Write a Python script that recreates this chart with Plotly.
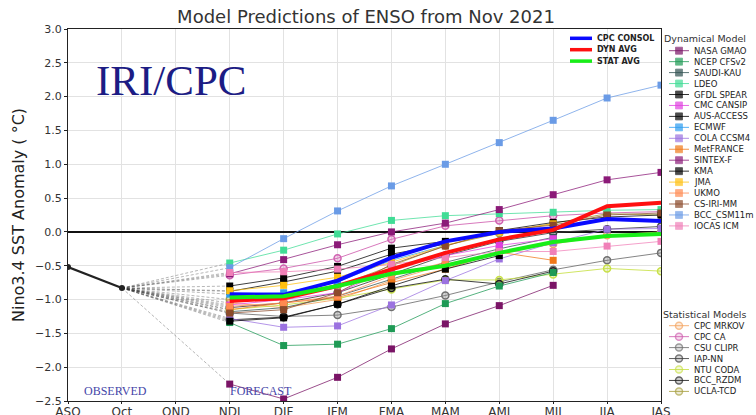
import plotly.graph_objects as go

# ---------------- data ----------------
SEASONS = ["ASO", "Oct", "OND", "NDJ", "DJF", "JFM", "FMA", "MAM", "AMJ", "MJJ", "JJA", "JAS"]
OBS_SEASONS = ["ASO", "Oct"]
OBS_VALUES = [-0.52, -0.83]
FC_SEASONS = ["NDJ", "DJF", "JFM", "FMA", "MAM", "AMJ", "MJJ", "JJA", "JAS"]

Y_TICKS = [3.0, 2.5, 2.0, 1.5, 1.0, 0.5, 0.0, -0.5, -1.0, -1.5, -2.0, -2.5]

# dynamical models
NASA_GMAO = [-2.25, -2.47, -2.15, -1.73, -1.36, -1.09, -0.79, None, None]
NCEP_CFSV2 = [-1.34, -1.68, -1.66, -1.43, -1.06, -0.80, -0.60, None, None]
SAUDI_KAU = [-1.18, -1.12, -0.95, -0.70, -0.45, -0.25, -0.08, None, None]
LDEO = [-0.46, -0.27, -0.03, 0.17, 0.24, 0.27, 0.29, 0.32, 0.33]
GFDL_SPEAR = [-0.80, -0.68, -0.51, -0.24, -0.14, 0.02, 0.14, 0.22, 0.25]
CMC_CANSIP = [-1.08, -1.00, -0.90, -0.55, -0.35, -0.20, -0.10, None, None]
AUS_ACCESS = [-0.88, -0.74, -0.58, -0.33, -0.18, None, None, None, None]
ECMWF = [-0.92, -0.90, -0.74, -0.42, -0.20, None, None, None, None]
COLA_CCSM4 = [-1.28, -1.41, -1.39, -1.08, -0.72, -0.40, -0.16, 0.04, 0.05]
METFRANCE = [-1.15, -1.05, -0.97, -0.75, -0.55, -0.30, -0.42, None, None]
SINTEX_F = [-0.62, -0.41, -0.19, 0.00, 0.13, 0.33, 0.55, 0.77, 0.88]
KMA = [-1.32, -1.27, -1.07, -0.80, -0.55, -0.35, None, None, None]
JMA = [-0.87, -0.79, -0.67, -0.45, -0.20, 0.00, 0.12, None, None]
UKMO = [-1.10, -1.05, -0.95, -0.65, -0.45, None, None, None, None]
CS_IRI_MM = [-1.20, -1.15, -0.90, -0.48, -0.21, 0.02, 0.10, 0.25, 0.28]
BCC_CSM11M = [-0.53, -0.10, 0.31, 0.68, 1.00, 1.32, 1.65, 1.98, 2.17]
IOCAS_ICM = [-0.60, -0.59, -0.55, -0.48, -0.38, -0.29, -0.29, -0.21, -0.14]

# statistical models
CPC_MRKOV = [-1.05, -1.12, -1.00, -0.72, -0.48, -0.30, -0.18, -0.05, 0.00]
CPC_CA = [-0.64, -0.54, -0.39, -0.11, 0.09, 0.17, 0.24, 0.28, 0.30]
CSU_CLIPR = [-1.20, -1.25, -1.23, -1.11, -0.94, -0.74, -0.56, -0.42, -0.31]
IAP_NN = [-1.12, -1.05, -0.90, -0.62, -0.35, -0.14, -0.01, 0.04, 0.08]
NTU_CODA = [-1.15, -1.08, -0.98, -0.85, -0.71, -0.71, -0.63, -0.54, -0.58]
BCC_RZDM = [-1.30, -1.26, -1.07, -0.83, -0.70, -0.77, -0.58, None, None]
UCLA_TCD = [-1.00, -0.95, -0.80, -0.50, -0.20, -0.02, 0.12, 0.27, 0.25]

# averages
CPC_CONSOL = [-0.92, -0.93, -0.72, -0.38, -0.14, 0.00, 0.05, 0.19, 0.16]
DYN_AVG = [-1.02, -0.98, -0.80, -0.56, -0.31, -0.11, 0.03, 0.38, 0.43]
STAT_AVG = [-0.97, -0.95, -0.80, -0.62, -0.50, -0.31, -0.15, -0.06, -0.03]

DYN_MODELS = [
    ("NASA GMAO", NASA_GMAO), ("NCEP CFSv2", NCEP_CFSV2), ("SAUDI-KAU", SAUDI_KAU),
    ("LDEO", LDEO), ("GFDL SPEAR", GFDL_SPEAR), ("CMC CANSIP", CMC_CANSIP),
    ("AUS-ACCESS", AUS_ACCESS), ("ECMWF", ECMWF), ("COLA CCSM4", COLA_CCSM4),
    ("MetFRANCE", METFRANCE), ("SINTEX-F", SINTEX_F), ("KMA", KMA), ("JMA", JMA),
    ("UKMO", UKMO), ("CS-IRI-MM", CS_IRI_MM), ("BCC_CSM11m", BCC_CSM11M),
    ("IOCAS ICM", IOCAS_ICM),
]
STAT_MODELS = [
    ("CPC MRKOV", CPC_MRKOV), ("CPC CA", CPC_CA), ("CSU CLIPR", CSU_CLIPR),
    ("IAP-NN", IAP_NN), ("NTU CODA", NTU_CODA), ("BCC_RZDM", BCC_RZDM),
    ("UCLA-TCD", UCLA_TCD),
]
AVERAGES = [("CPC CONSOL", CPC_CONSOL), ("DYN AVG", DYN_AVG), ("STAT AVG", STAT_AVG)]

# ---------------- styles ----------------
DYN_COLORS = {
    "NASA GMAO": "#7a1466", "NCEP CFSv2": "#1e9a55", "SAUDI-KAU": "#2f5050",
    "LDEO": "#40dc95", "GFDL SPEAR": "#000000", "CMC CANSIP": "#e040e0",
    "AUS-ACCESS": "#000000", "ECMWF": "#2b9cf0", "COLA CCSM4": "#9b72e0",
    "MetFRANCE": "#f07818", "SINTEX-F": "#8b1a78", "KMA": "#000000", "JMA": "#ffc010",
    "UKMO": "#ff8a50", "CS-IRI-MM": "#8b4a2a", "BCC_CSM11m": "#6a9be6",
    "IOCAS ICM": "#f080b8",
}
STAT_COLORS = {
    "CPC MRKOV": "#f4a460", "CPC CA": "#d060b0", "CSU CLIPR": "#707070",
    "IAP-NN": "#404040", "NTU CODA": "#c8e048", "BCC_RZDM": "#202020",
    "UCLA-TCD": "#a8a040",
}
AVG_COLORS = {"CPC CONSOL": "#0a0aff", "DYN AVG": "#ff1010", "STAT AVG": "#18ee18"}

W, H = 756, 415
PLOT_L, PLOT_R, PLOT_T, PLOT_B = 68, 661, 29, 401


def rgba(hex_color, a):
    h = hex_color.lstrip("#")
    r, g, b = int(h[0:2], 16), int(h[2:4], 16), int(h[4:6], 16)
    return f"rgba({r},{g},{b},{a})"


fig = go.Figure()

# dashed connectors from last observation to first forecast of each model
cx, cy = [], []
for _, vals in DYN_MODELS + STAT_MODELS:
    cx += [OBS_SEASONS[-1], FC_SEASONS[0], None]
    cy += [OBS_VALUES[-1], vals[0], None]
fig.add_trace(go.Scatter(x=cx, y=cy, mode="lines", showlegend=False, hoverinfo="skip",
                         line=dict(color="rgba(50,50,50,0.5)", width=0.7, dash="3px,2px")))

# statistical models (open circles)
for name, vals in STAT_MODELS:
    c = STAT_COLORS[name]
    fig.add_trace(go.Scatter(
        x=FC_SEASONS, y=vals, name=name, mode="lines+markers", showlegend=False,
        line=dict(color=rgba(c, 0.85), width=1),
        marker=dict(symbol="circle", size=7, color=rgba(c, 0.3), line=dict(color=c, width=1.5)),
    ))

# dynamical models (squares)
for name, vals in DYN_MODELS:
    c = DYN_COLORS[name]
    fig.add_trace(go.Scatter(
        x=FC_SEASONS, y=vals, name=name, mode="lines+markers", showlegend=False,
        line=dict(color=rgba(c, 0.75), width=1),
        marker=dict(symbol="square", size=7, color=c),
    ))

# averages (thick)
for name, vals in AVERAGES:
    fig.add_trace(go.Scatter(
        x=FC_SEASONS, y=vals, name=name, mode="lines", showlegend=False,
        line=dict(color=AVG_COLORS[name], width=4),
    ))

# observed
fig.add_trace(go.Scatter(
    x=OBS_SEASONS, y=OBS_VALUES, name="Observed", mode="lines+markers", showlegend=False,
    line=dict(color="#222222", width=2.2), marker=dict(symbol="circle", size=6, color="#222222"),
))

# ---------------- legend panels (drawn in a pixel-space overlay axis) ----------------
ann = []
LEG_FONT = dict(family="DejaVu Sans", size=8.5, color="#222222")


def legend_row(name, color, y, kind):
    x0, xm, x1 = 669, 679, 689
    if kind == "sq":
        mk = dict(symbol="square", size=[0, 7, 0], color=color)
        ln = dict(color=rgba(color, 0.8), width=1)
    else:
        mk = dict(symbol="circle", size=[0, 7, 0], color=rgba(color, 0.3), line=dict(color=color, width=1.5))
        ln = dict(color=rgba(color, 0.85), width=1)
    fig.add_trace(go.Scatter(x=[x0, xm, x1], y=[y, y, y], mode="lines+markers", xaxis="x2", yaxis="y2",
                             showlegend=False, hoverinfo="skip", line=ln, marker=mk))
    ann.append(dict(x=692, y=y, xref="x2", yref="y2", text=name, showarrow=False,
                    xanchor="left", yanchor="middle", font=LEG_FONT))


DYN_TOP, STAT_TOP, STEP = 50.7, 325.7, 10.95
ann.append(dict(x=662, y=38, xref="x2", yref="y2", text="Dynamical Model", showarrow=False,
                xanchor="left", yanchor="middle", font=dict(family="DejaVu Sans", size=9.5, color="#333333")))
for i, (name, _) in enumerate(DYN_MODELS):
    legend_row(name, DYN_COLORS[name], DYN_TOP + i * STEP, "sq")
ann.append(dict(x=661, y=314, xref="x2", yref="y2", text="Statistical Models", showarrow=False,
                xanchor="left", yanchor="middle", font=dict(family="DejaVu Sans", size=9.5, color="#333333")))
for i, (name, _) in enumerate(STAT_MODELS):
    legend_row(name, STAT_COLORS[name], STAT_TOP + i * STEP, "ci")

# inner legend for averages
for i, (name, _) in enumerate(AVERAGES):
    y = 38.3 + i * 11.4
    fig.add_trace(go.Scatter(x=[570, 592], y=[y, y], mode="lines", xaxis="x2", yaxis="y2",
                             showlegend=False, hoverinfo="skip",
                             line=dict(color=AVG_COLORS[name], width=3.5)))
    ann.append(dict(x=595, y=y, xref="x2", yref="y2", text=f"<b>{name}</b>", showarrow=False,
                    xanchor="left", yanchor="middle",
                    font=dict(family="DejaVu Sans", size=8, color="#222222")))

# text labels in the plot
ann.append(dict(x=171, y=80, xref="x2", yref="y2", text="IRI/CPC", showarrow=False,
                xanchor="center", yanchor="middle",
                font=dict(family="Liberation Serif", size=43, color="#1c1c84")))
ann.append(dict(x=115, y=391, xref="x2", yref="y2", text="OBSERVED", showarrow=False,
                xanchor="center", yanchor="middle",
                font=dict(family="Liberation Serif", size=12, color="#4545a8")))
ann.append(dict(x=261, y=391, xref="x2", yref="y2", text="FORECAST", showarrow=False,
                xanchor="center", yanchor="middle",
                font=dict(family="Liberation Serif", size=12, color="#4545a8")))
# y axis title
ann.append(dict(x=18, y=215, xref="x2", yref="y2", text="Nino3.4 SST Anomaly ( \u00b0C)", showarrow=False,
                textangle=-90, xanchor="center", yanchor="middle",
                font=dict(family="DejaVu Sans", size=16, color="#222222")))

TICK_FONT = dict(family="DejaVu Sans", size=12, color="#333333")

fig.update_layout(
    width=W, height=H,
    margin=dict(l=0, r=0, t=0, b=0),
    paper_bgcolor="white", plot_bgcolor="rgba(0,0,0,0)",
    showlegend=False,
    title=dict(text="Model Predictions of ENSO from Nov 2021", x=366 / W, xref="container",
               xanchor="center", y=1 - 17 / H, yref="container", yanchor="middle",
               font=dict(family="DejaVu Sans", size=18, color="#333333")),
    xaxis=dict(
        type="category", categoryorder="array", categoryarray=SEASONS,
        tickvals=SEASONS, ticktext=SEASONS,
        range=[0, len(SEASONS) - 1], domain=[PLOT_L / W, PLOT_R / W], anchor="y",
        showgrid=True, gridcolor="#e2e2e2", gridwidth=1,
        showline=True, linecolor="#222222", linewidth=1.2, mirror=True,
        ticks="outside", ticklen=2, tickcolor="#222222", tickfont=TICK_FONT,
        ticklabelstandoff=-3,
        zeroline=False, automargin=False, fixedrange=True,
    ),
    yaxis=dict(
        range=[-2.5, 3.0], domain=[1 - PLOT_B / H, 1 - PLOT_T / H], anchor="x",
        tickvals=Y_TICKS, ticktext=[f"{v:.1f}".replace("-", "\u2212") for v in Y_TICKS],
        showgrid=True, gridcolor="#e2e2e2", gridwidth=1,
        showline=True, linecolor="#222222", linewidth=1.2, mirror=True,
        ticks="outside", ticklen=3, tickcolor="#222222",
        tickfont=dict(family="DejaVu Sans", size=11, color="#333333"),
        zeroline=True, zerolinecolor="#111111", zerolinewidth=1.6,
        automargin=False, fixedrange=True,
    ),
    xaxis2=dict(domain=[0, 1], range=[0, W], visible=False, anchor="y2", fixedrange=True),
    yaxis2=dict(domain=[0, 1], range=[H, 0], visible=False, anchor="x2", fixedrange=True),
    annotations=ann,
)

fig.write_html("out.html", config={"displayModeBar": False},
               post_script="document.body.style.margin='0';document.body.style.overflow='hidden';")
